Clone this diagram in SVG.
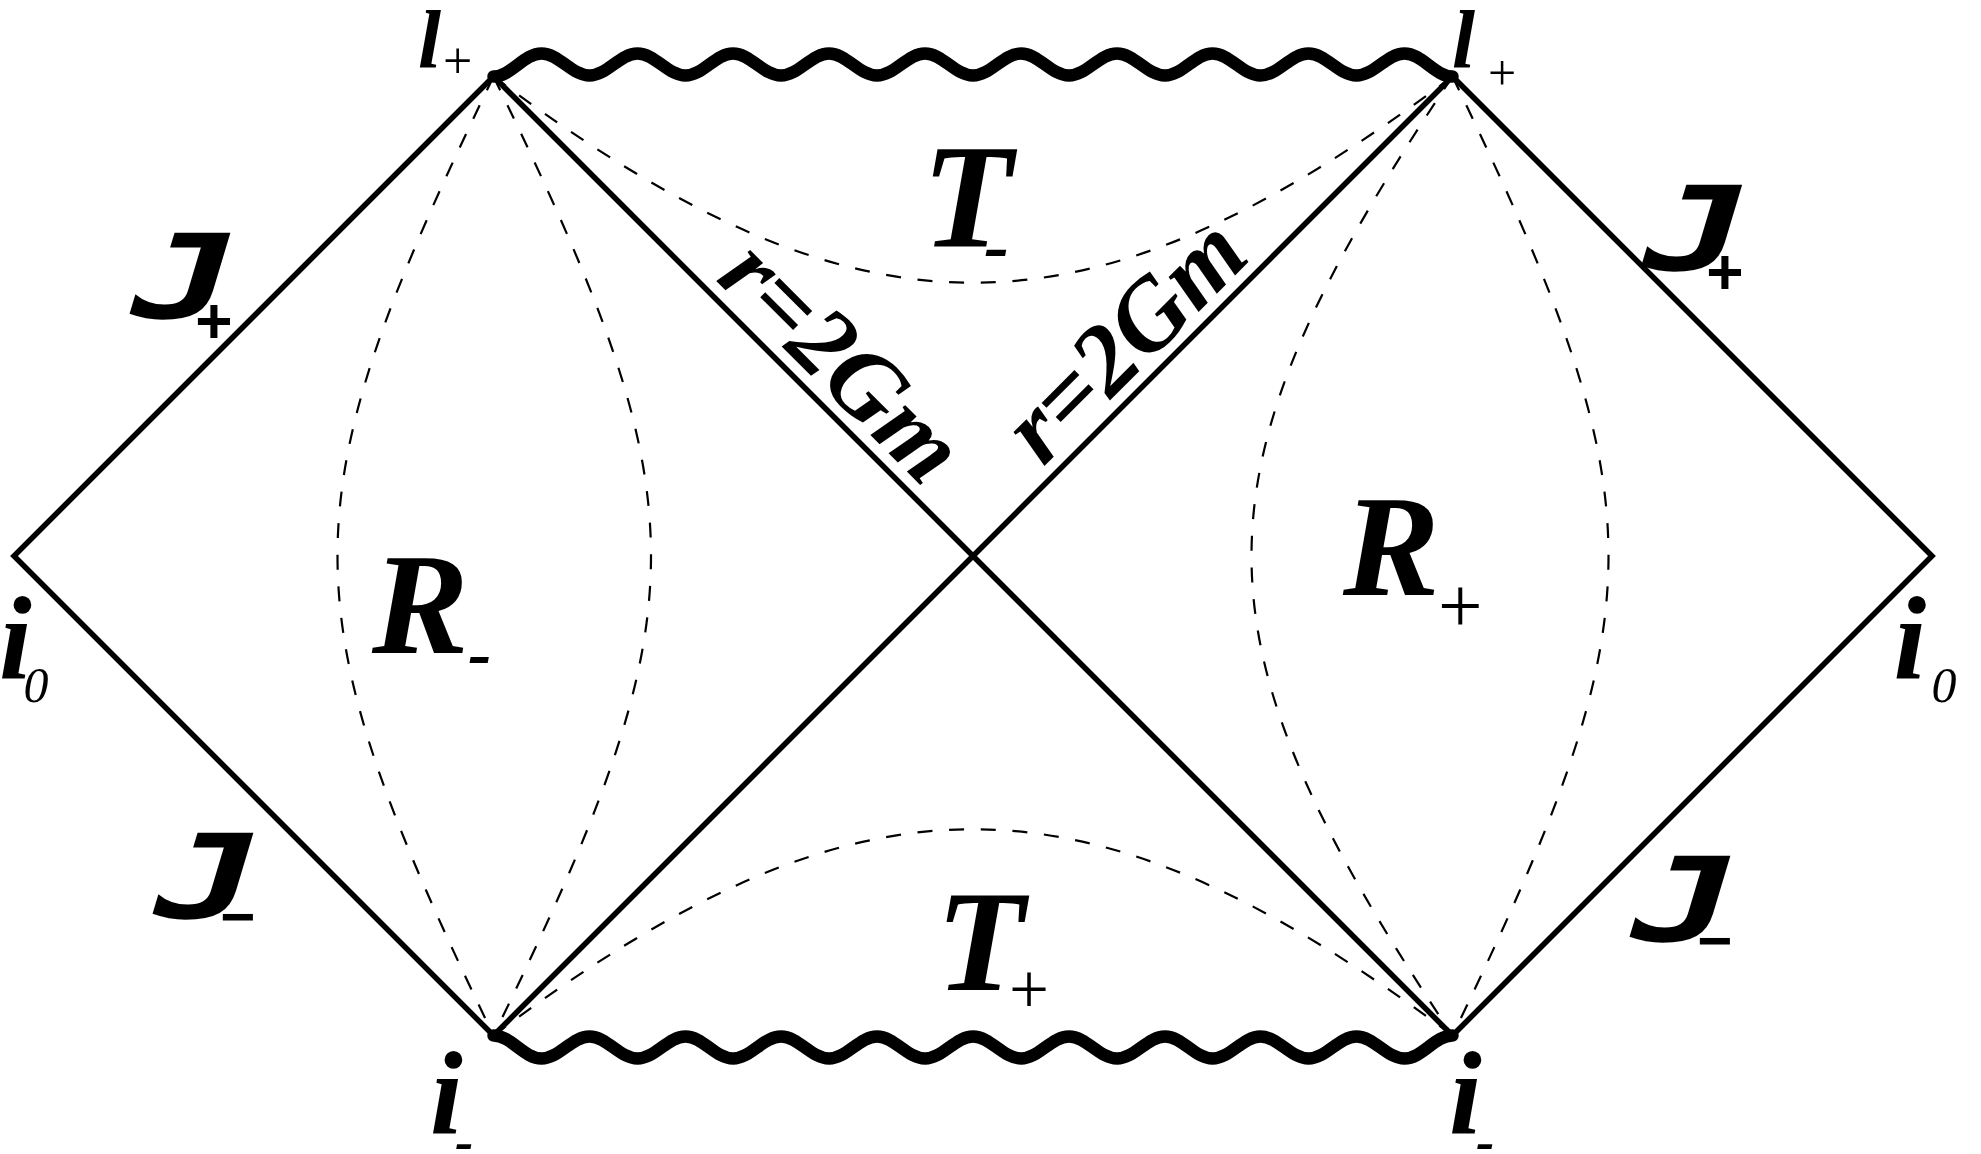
<svg xmlns="http://www.w3.org/2000/svg" width="1981" height="1154" viewBox="0 0 1981 1154">
<style>
.bg{fill:#fff}
.edge{fill:none;stroke:#000;stroke-width:5.5;stroke-linejoin:miter;stroke-miterlimit:10}
.sing{fill:none;stroke:#000;stroke-width:12.5;stroke-linecap:round;stroke-linejoin:round}
.dash{fill:none;stroke:#000;stroke-width:2.2;stroke-dasharray:15 16.7}
.sbi{font-family:"Liberation Serif","Times New Roman",serif;font-weight:bold;font-style:italic;fill:#000}
.si{font-family:"Liberation Serif","Times New Roman",serif;font-style:italic;fill:#000}
.sr{font-family:"Liberation Serif","Times New Roman",serif;fill:#000}
.jj{font-family:"DejaVu Sans Mono",monospace;font-weight:bold;fill:#000}
.ssb{font-family:"Liberation Sans",Arial,sans-serif;font-weight:bold;font-style:italic;fill:#000}
</style>
<rect class="bg" x="0" y="0" width="1981" height="1154"/>
<g id="connectors">
  <path id="boundary" class="edge" d="M493.5,1035.5 L14,556 L493.5,76.5 L1452.5,1035.5 L1932,556 L1452.5,76.5 L493.5,1035.5"/>
  <path id="singularity-top" class="sing" d="M493.5,76.5 C511,76.5 524,53.5 541.5,53.5 S572,75.5 589.5,75.5 S620,53.5 637.5,53.5 S668,75.5 685.5,75.5 S715.5,53.5 733,53.5 S763.5,75.5 781,75.5 S811.5,53.5 829,53.5 S859.5,75.5 877,75.5 S907.5,53.5 925,53.5 S955.5,75.5 973,75.5 S1003.5,53.5 1021,53.5 S1051.5,75.5 1069,75.5 S1099.5,53.5 1117,53.5 S1147.5,75.5 1165,75.5 S1195,53.5 1212.5,53.5 S1243,75.5 1260.5,75.5 S1291,53.5 1308.5,53.5 S1339,75.5 1356.5,75.5 S1387,53.5 1404.5,53.5 S1435,76.5 1452.5,76.5"/>
  <path id="singularity-bottom" class="sing" d="M493.5,1035.5 C511,1035.5 524,1058.5 541.5,1058.5 S572,1036.5 589.5,1036.5 S620,1058.5 637.5,1058.5 S668,1036.5 685.5,1036.5 S715.5,1058.5 733,1058.5 S763.5,1036.5 781,1036.5 S811.5,1058.5 829,1058.5 S859.5,1036.5 877,1036.5 S907.5,1058.5 925,1058.5 S955.5,1036.5 973,1036.5 S1003.5,1058.5 1021,1058.5 S1051.5,1036.5 1069,1036.5 S1099.5,1058.5 1117,1058.5 S1147.5,1036.5 1165,1036.5 S1195,1058.5 1212.5,1058.5 S1243,1036.5 1260.5,1036.5 S1291,1058.5 1308.5,1058.5 S1339,1036.5 1356.5,1036.5 S1387,1058.5 1404.5,1058.5 S1435,1035.5 1452.5,1035.5"/>
  <path id="curve-T-minus" class="dash" d="M493.5,76.5 C860.5,351.5 1085.5,351.5 1452.5,76.5"/>
  <path id="curve-T-plus" class="dash" d="M493.5,1035.5 C860.5,760.5 1085.5,760.5 1452.5,1035.5"/>
  <path id="curve-R-minus-outer" class="dash" d="M493.5,76.5 C285.5,506.5 285.5,605.5 493.5,1035.5"/>
  <path id="curve-R-minus-inner" class="dash" d="M493.5,76.5 C703.5,506.5 703.5,605.5 493.5,1035.5"/>
  <path id="curve-R-plus-inner" class="dash" d="M1452.5,76.5 C1184.5,476.5 1184.5,635.5 1452.5,1035.5"/>
  <path id="curve-R-plus-outer" class="dash" d="M1452.5,76.5 C1660.5,506.5 1660.5,605.5 1452.5,1035.5"/>
</g>
<g id="label-lplus-left"><text class="sbi" x="418" y="67" font-size="83">l</text><text class="sr" x="443" y="78" font-size="52">+</text></g>
<g id="label-lplus-right"><text class="sbi" x="1452" y="67" font-size="83">l</text><text class="sr" x="1488" y="90" font-size="50">+</text></g>
<g id="label-i0-left"><text class="sbi" x="-1" y="678" font-size="118">i</text><text class="si" x="23.5" y="702" font-size="50">0</text></g>
<g id="label-i0-right"><text class="sbi" x="1893.5" y="678" font-size="118">i</text><text class="si" x="1931.5" y="702" font-size="50">0</text></g>
<g id="label-iminus-left"><text class="sbi" x="430" y="1133" font-size="118">i</text><text class="sbi" x="455" y="1160" font-size="55">-</text></g>
<g id="label-iminus-right"><text class="sbi" x="1449" y="1133" font-size="118">i</text><text class="sbi" x="1476" y="1160" font-size="55">-</text></g>
<g id="label-Tminus"><text class="sbi" x="922" y="247" font-size="148">T</text><text class="sbi" x="984" y="270" font-size="75">-</text></g>
<g id="label-Tplus"><text class="sbi" x="936" y="990" font-size="145">T</text><text class="sr" x="1009" y="1013" font-size="71">+</text></g>
<g id="label-Rminus"><text class="sbi" x="372" y="653" font-size="145">R</text><text class="sbi" x="468" y="677" font-size="70">-</text></g>
<g id="label-Rplus"><text class="sbi" x="1343" y="595" font-size="145">R</text><text class="sr" x="1438" y="632" font-size="79">+</text></g>
<g id="label-horizon-left"><text class="sbi" transform="translate(714.8,279.4) rotate(45)" font-size="100">r=2Gm</text></g>
<g id="label-horizon-right"><text class="sbi" transform="translate(1043,467.6) rotate(-45)" font-size="100">r=2Gm</text></g>
<g id="label-Jplus-left"><text class="jj" transform="translate(119,318) skewX(-16.7) scale(1.49,1)" font-size="117">J</text><text class="ssb" x="194" y="343" font-size="64">+</text></g>
<g id="label-Jplus-right"><text class="jj" transform="translate(1630.7,270) skewX(-16.7) scale(1.49,1)" font-size="117">J</text><text class="ssb" x="1705" y="294" font-size="64">+</text></g>
<g id="label-Jminus-left"><text class="jj" transform="translate(142,918) skewX(-16.7) scale(1.49,1)" font-size="117">J</text><text class="ssb" x="219" y="937" font-size="60">−</text></g>
<g id="label-Jminus-right"><text class="jj" transform="translate(1619,941) skewX(-16.7) scale(1.49,1)" font-size="117">J</text><text class="ssb" x="1696" y="961" font-size="60">−</text></g>
</svg>
